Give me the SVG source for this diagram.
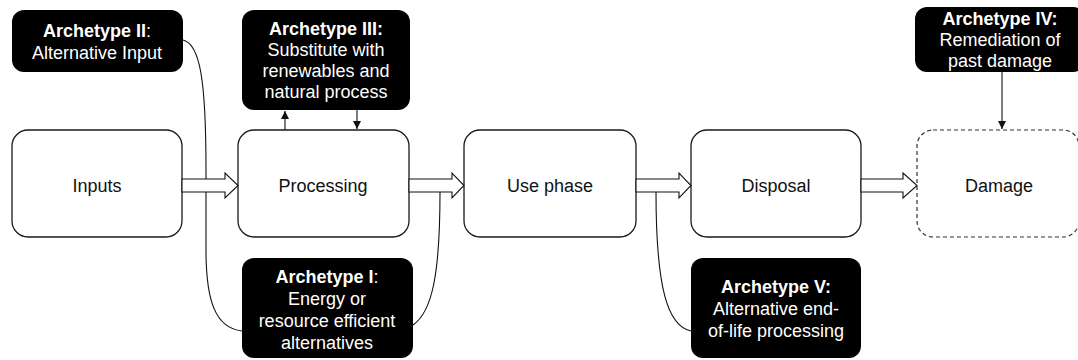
<svg xmlns="http://www.w3.org/2000/svg" width="1078" height="360" viewBox="0 0 1078 360">
<style>
.box{fill:#fff;stroke:#1a1a1a;stroke-width:1.3}
.dash{fill:#fff;stroke:#333;stroke-width:1.2;stroke-dasharray:4 3}
.arch{fill:#000}
.lbl{font-family:"Liberation Sans",Arial,sans-serif;font-size:18px;fill:#111;text-anchor:middle}
.at{font-family:"Liberation Sans",Arial,sans-serif;font-size:18px;fill:#fff;text-anchor:middle}
.b{font-weight:bold}
.line{fill:none;stroke:#111;stroke-width:1.1}
.fat{fill:#fff;stroke:#111;stroke-width:1.1;stroke-linejoin:miter}
</style>
<defs>
<marker id="ah" viewBox="0 0 10 10" refX="10" refY="5" markerWidth="8" markerHeight="8" markerUnits="userSpaceOnUse" orient="auto">
<path d="M0,0 L10,5 L0,10 z" fill="#111"/>
</marker>
</defs>
<rect width="1078" height="360" fill="#fff"/>
<g id="inputs"><rect class="box" x="12" y="130" width="170" height="107" rx="16"/><text class="lbl" x="97" y="192">Inputs</text></g>
<g id="processing"><rect class="box" x="238" y="130" width="171" height="107" rx="16"/><text class="lbl" x="323" y="192">Processing</text></g>
<g id="usephase"><rect class="box" x="464" y="130" width="172" height="107" rx="16"/><text class="lbl" x="550" y="192">Use phase</text></g>
<g id="disposal"><rect class="box" x="691" y="130" width="170" height="107" rx="16"/><text class="lbl" x="776" y="192">Disposal</text></g>
<g id="damage"><rect class="dash" x="917" y="130" width="162" height="107" rx="16"/><text class="lbl" x="999" y="192">Damage</text></g>
<g id="connectors">
<path class="line" d="M183,40 C200,44 206,80 206,170 L206,250 C206,300 215,328 242,331"/>
<path class="line" d="M440,192 C440,275 432,312 413,325"/>
<path class="line" d="M656,192 C656,290 668,326 691,331"/>
<line class="line" x1="285" y1="130" x2="285" y2="111" marker-end="url(#ah)"/>
<line class="line" x1="357" y1="110" x2="357" y2="129" marker-end="url(#ah)"/>
<line class="line" x1="1002" y1="72" x2="1002" y2="129" marker-end="url(#ah)"/>
<polygon class="fat" points="182,179 225,179 225,173 238,185.5 225,198 225,192 182,192"/>
<polygon class="fat" points="409,179 452,179 452,173 464,185.5 452,198 452,192 409,192"/>
<polygon class="fat" points="636,179 679,179 679,173 691,185.5 679,198 679,192 636,192"/>
<polygon class="fat" points="861,179 903,179 903,173 917,185.5 903,198 903,192 861,192"/>
</g>
<g id="archetype2"><rect class="arch" x="12" y="10" width="171" height="62" rx="12"/><text class="at" x="97" y="37"><tspan class="b">Archetype II</tspan>:</text><text class="at" x="97" y="59">Alternative Input</text></g>
<g id="archetype3"><rect class="arch" x="242" y="10" width="168" height="100" rx="12"/><text class="at b" x="326" y="35">Archetype III:</text><text class="at" x="326" y="56">Substitute with</text><text class="at" x="326" y="77">renewables and</text><text class="at" x="326" y="98">natural process</text></g>
<g id="archetype4"><rect class="arch" x="915" y="7" width="170" height="65" rx="12"/><text class="at b" x="1000" y="25">Archetype IV:</text><text class="at" x="1000" y="46">Remediation of</text><text class="at" x="1000" y="67">past damage</text></g>
<g id="archetype1"><rect class="arch" x="242" y="258" width="171" height="100" rx="12"/><text class="at" x="327" y="283"><tspan class="b">Archetype I</tspan>:</text><text class="at" x="327" y="305">Energy or</text><text class="at" x="327" y="327">resource efficient</text><text class="at" x="327" y="349">alternatives</text></g>
<g id="archetype5"><rect class="arch" x="691" y="258" width="170" height="100" rx="12"/><text class="at b" x="776" y="293">Archetype V:</text><text class="at" x="776" y="315">Alternative end-</text><text class="at" x="776" y="337">of-life processing</text></g>
</svg>
